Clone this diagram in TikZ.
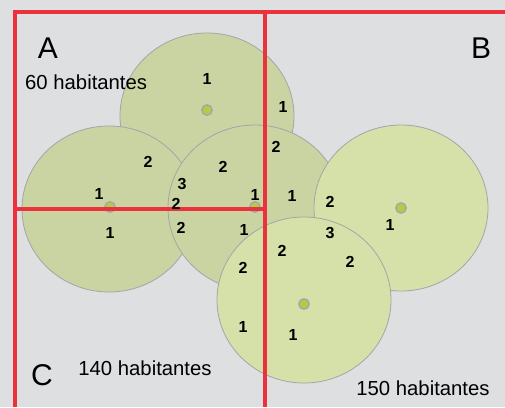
\documentclass[tikz,border=0pt]{standalone}
\usepackage{fontspec}
\setmainfont{Liberation Sans}
\definecolor{bggray}{HTML}{DEDFE1}
\definecolor{zonered}{HTML}{EC303C}
\definecolor{olivedark}{HTML}{C9D4A2}
\definecolor{olivelight}{HTML}{D5E1A9}
\definecolor{dotgreen}{HTML}{B2CB48}
\definecolor{rimgray}{HTML}{A3A5A8}
\begin{document}
\begin{tikzpicture}[x=1pt, y=-1pt,
    % Areas (circles), centres and zone lines
    area/.style={fill=#1, draw=rimgray, line width=0.8pt},
    centre/.style={circle, fill=dotgreen, draw=rimgray, line width=1.3pt, minimum size=10.5pt, inner sep=0pt},
    zoneline/.style={draw=zonered, line width=4.5pt},
    % Text styles
    count/.style={font=\bfseries\fontsize{16}{16}\selectfont, inner sep=0pt},
    zone/.style={font=\fontsize{30}{30}\selectfont, inner sep=0pt},
    people/.style={font=\fontsize{20.3}{21}\selectfont, inner sep=0pt}
]

% ---------------------------------------------------------
% 1. BACKGROUND
% ---------------------------------------------------------
\fill[bggray] (0,0) rectangle (505,407);
\useasboundingbox (0,0) rectangle (505,407);

% ---------------------------------------------------------
% 2. AREAS (drawn back to front)
% ---------------------------------------------------------
\draw[area=olivedark] (207,116) ellipse [x radius=87pt, y radius=83pt];
\draw[area=olivedark] (109,209) ellipse [x radius=87pt, y radius=83pt];
\draw[area=olivedark] (255,208) ellipse [x radius=87pt, y radius=83pt];
\draw[area=olivelight] (401,208) ellipse [x radius=87pt, y radius=83pt];
\draw[area=olivelight] (304,300) ellipse [x radius=87pt, y radius=83pt];

% Centres
\node[centre] (top) at (207,110) {};
\node[centre] (left) at (110,207) {};
\node[centre] (mid) at (255,207) {};
\node[centre] (right) at (401,208) {};
\node[centre] (low) at (304,304) {};

% ---------------------------------------------------------
% 3. ZONE LINES
% ---------------------------------------------------------
\coordinate (nw) at (15,12);
\coordinate (ne) at (505,12);
\coordinate (sw) at (15,407);
\coordinate (ntop) at (265,12);
\coordinate (nbot) at (265,407);
\coordinate (wmid) at (15,209);
\coordinate (cmid) at (265,209);
\draw[zoneline] (sw) -- (nw) -- (ne);
\draw[zoneline] (ntop) -- (nbot);
\draw[zoneline] (wmid) -- (cmid);

% ---------------------------------------------------------
% 4. LABELS
% ---------------------------------------------------------
\node[zone] (za) at (48,48) {A};
\node[zone] (zb) at (481,48) {B};
\node[zone] (zc) at (42,375) {C};

\node[people, anchor=west] (pa) at (25,82) {60 habitantes};
\node[people] (pc) at (145,368) {140 habitantes};
\node[people] (pb) at (423,388) {150 habitantes};

% Overlap counts
\node[count] (n1) at (207,79) {1};
\node[count] (n2) at (148,162) {2};
\node[count] (n3) at (223,167) {2};
\node[count] (n4) at (182,184) {3};
\node[count] (n5) at (99,194) {1};
\node[count] (n6) at (255,195) {1};
\node[count] (n7) at (176,204) {2};
\node[count] (n8) at (283,107) {1};
\node[count] (n9) at (276,147) {2};
\node[count] (n10) at (292,196) {1};
\node[count] (n11) at (330,202) {2};
\node[count] (n12) at (110,233) {1};
\node[count] (n13) at (181,228) {2};
\node[count] (n14) at (244,230) {1};
\node[count] (n15) at (243,268) {2};
\node[count] (n16) at (243,327) {1};
\node[count] (n17) at (282,251) {2};
\node[count] (n18) at (330,233) {3};
\node[count] (n19) at (350,262) {2};
\node[count] (n20) at (390,225) {1};
\node[count] (n21) at (293,335) {1};

\end{tikzpicture}
\end{document}
